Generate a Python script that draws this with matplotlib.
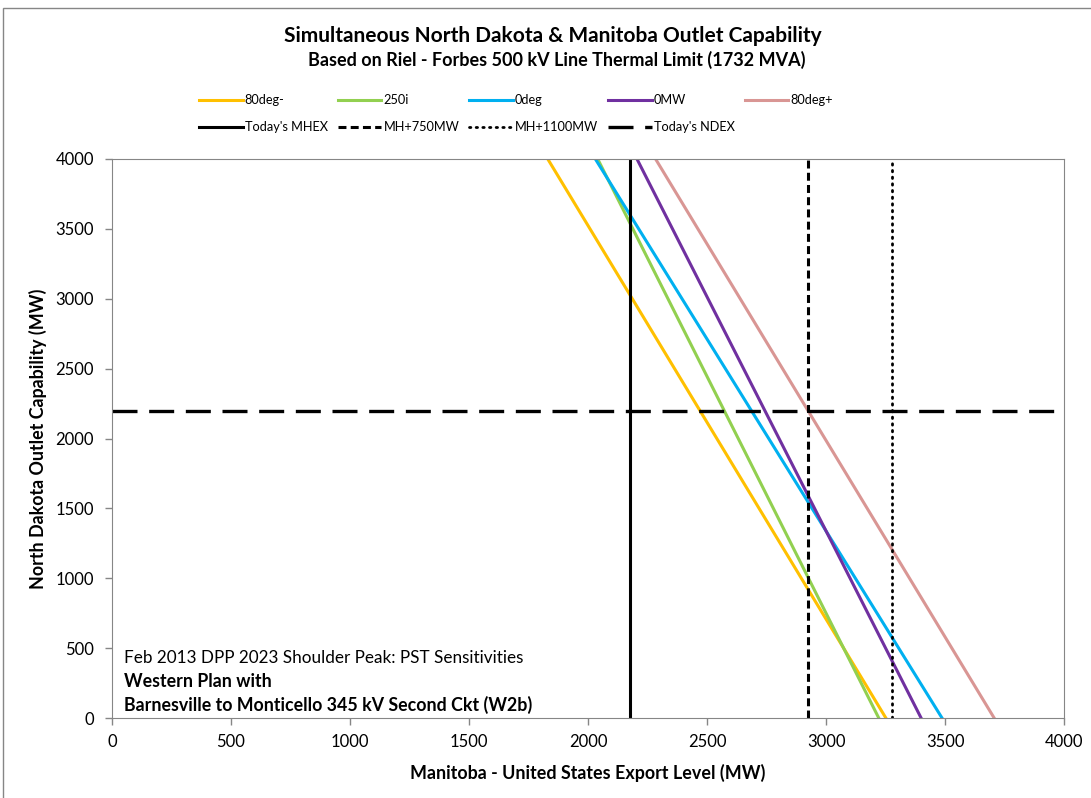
import matplotlib.pyplot as plt
from matplotlib.patches import Rectangle

# Fonts (Calibri-like look)
plt.rcParams['font.family'] = ['Lato', 'DejaVu Sans']

# ND outlet level (MW) at the two ends of each PST sensitivity line
nd_outlet = [4000, 0]
# Manitoba - US export level (MW) at those ND outlet levels
mhex_80deg_minus = [1830, 3252]
mhex_250i = [2040, 3222]
mhex_0deg = [2030, 3488]
mhex_0mw = [2205, 3400]
mhex_80deg_plus = [2283, 3707]

series_labels = ['80deg-', '250i', '0deg', '0MW', '80deg+']
series_colors = ['#FFC000', '#92D050', '#00B0F0', '#7030A0', '#D99694']

# Reference levels (MW)
todays_mhex = 2175
mh_plus_750 = 2925
mh_plus_1100 = 3275
todays_ndex = 2200

fig = plt.figure(figsize=(10.91, 7.98), dpi=100)
ax = fig.add_axes([0.1027, 0.0999, 0.8726, 0.7012])

# chart border
fig.patches.append(Rectangle((0.0027, -0.1), 1.2, 1.09, transform=fig.transFigure,
                             fill=False, edgecolor='#868686', linewidth=1.0))

series_x = [mhex_80deg_minus, mhex_250i, mhex_0deg, mhex_0mw, mhex_80deg_plus]
series_handles = []
for xs, lab, col in zip(series_x, series_labels, series_colors):
    h, = ax.plot(xs, nd_outlet, color=col, linewidth=2.2, label=lab)
    series_handles.append(h)

h_mhex = ax.axvline(todays_mhex, color='black', linewidth=2.2, label="Today's MHEX")
h_750 = ax.axvline(mh_plus_750, color='black', linewidth=2.2, linestyle=(0, (2.6, 1.4)),
                   label='MH+750MW')
h_1100 = ax.axvline(mh_plus_1100, color='black', linewidth=2.0, linestyle=(0, (0.5, 1.9)),
                    dash_capstyle='round', label='MH+1100MW')
h_ndex = ax.axhline(todays_ndex, color='black', linewidth=2.4, linestyle=(0, (7.5, 3.5)),
                    label="Today's NDEX")
ref_handles = [h_mhex, h_750, h_1100, h_ndex]

ax.set_xlim(0, 4000)
ax.set_ylim(0, 4000)
ax.set_xticks(range(0, 4001, 500))
ax.set_yticks(range(0, 4001, 500))
for s in ax.spines.values():
    s.set_color('#868686')
ax.tick_params(colors='#868686', labelcolor='black', labelsize=12, length=5, width=1)
ax.tick_params(axis='y', pad=8)
ax.tick_params(axis='x', pad=6)

ax.set_xlabel('Manitoba - United States Export Level (MW)', fontsize=12.9, fontweight='bold',
              labelpad=10)
ax.set_ylabel('North Dakota Outlet Capability (MW)', fontsize=12.9, fontweight='bold',
              labelpad=6)

fig.text(0.507, 0.955, 'Simultaneous North Dakota & Manitoba Outlet Capability',
         ha='center', va='center', fontsize=15, fontweight='bold')
fig.text(0.51, 0.925, 'Based on Riel - Forbes 500 kV Line Thermal Limit (1732 MVA)',
         ha='center', va='center', fontsize=13, fontweight='bold')

# legend: 5 columns, top row = sensitivities, bottom row = reference levels
order = []
for i in range(5):
    order.append(series_handles[i])
    if i < 4:
        order.append(ref_handles[i])
fig.legend(handles=order, labels=[h.get_label() for h in order], loc='upper center',
           bbox_to_anchor=(0.473, 0.896), ncol=5, frameon=False, fontsize=9.2,
           handlelength=3.4, handletextpad=0.15, columnspacing=0.8, labelspacing=1.15)

ax.text(0.0126, 0.108, 'Feb 2013 DPP 2023 Shoulder Peak: PST Sensitivities',
        transform=ax.transAxes, fontsize=12.3, va='center')
ax.text(0.0126, 0.066, 'Western Plan with', transform=ax.transAxes, fontsize=12.8,
        fontweight='bold', va='center')
ax.text(0.0126, 0.024, 'Barnesville to Monticello 345 kV Second Ckt (W2b)',
        transform=ax.transAxes, fontsize=12.8, fontweight='bold', va='center')

fig.savefig('out.png', dpi=100)
